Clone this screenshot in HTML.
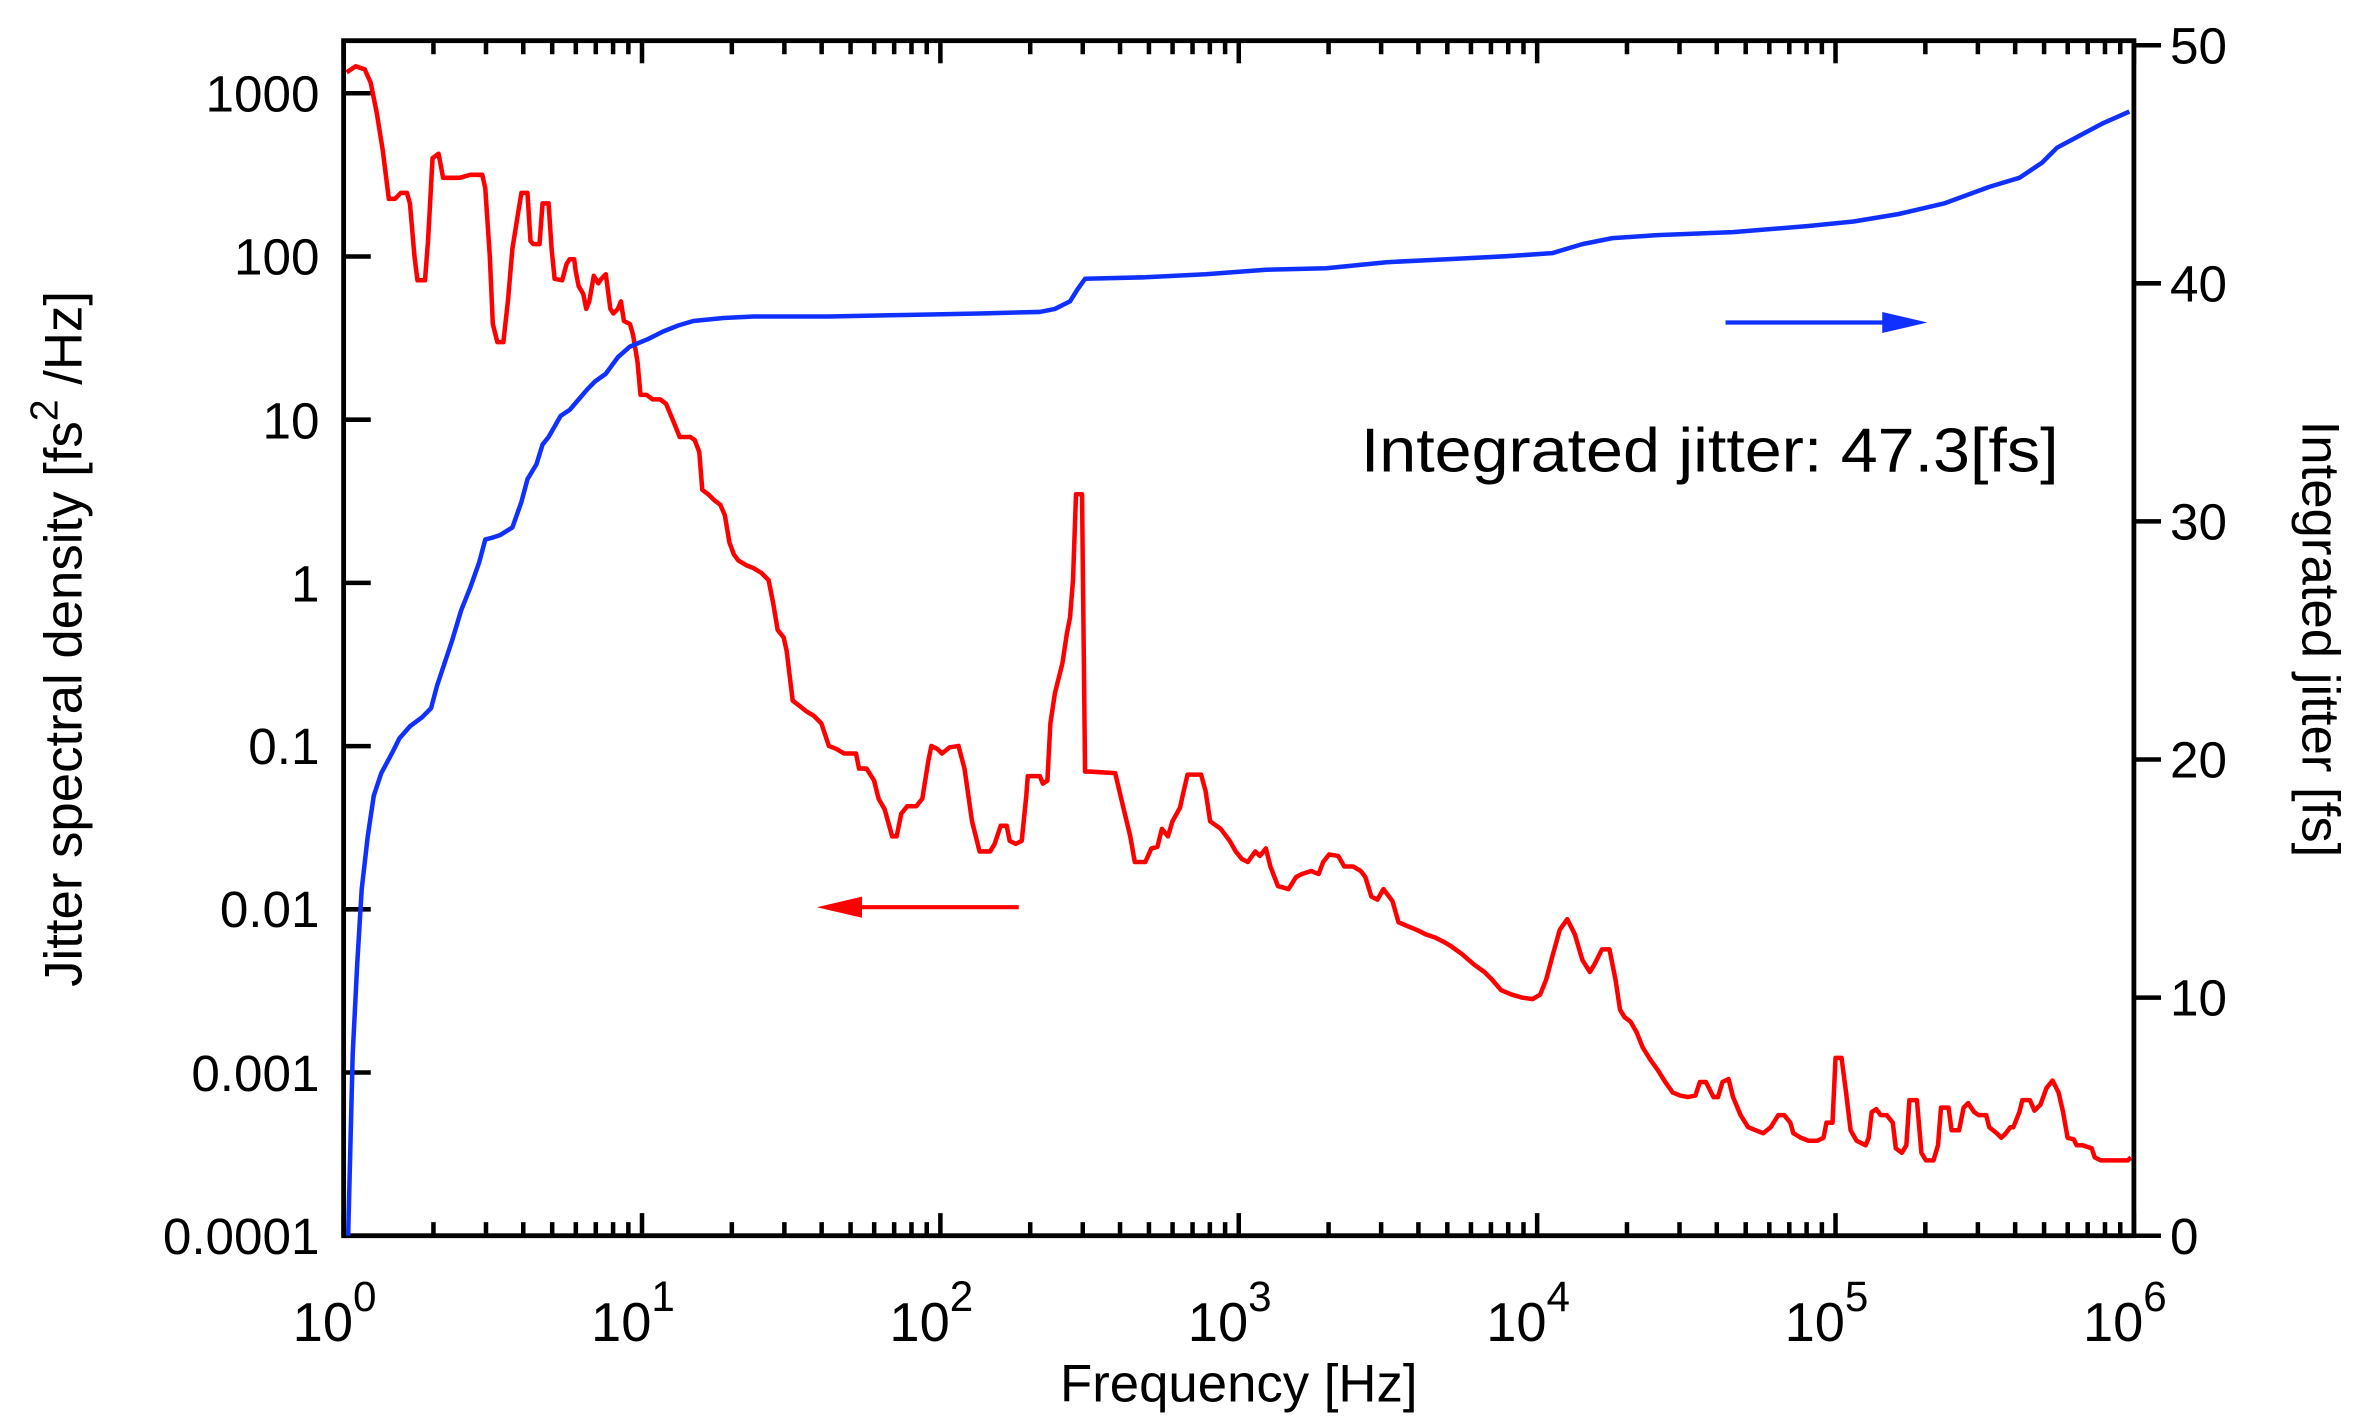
<!DOCTYPE html>
<html><head><meta charset="utf-8"><style>
html,body{margin:0;padding:0;background:#fff;}
svg{display:block;}
text{font-family:"Liberation Sans",Arial,sans-serif;fill:#000;}
</style></head><body>
<svg id="s" xmlns="http://www.w3.org/2000/svg" width="2363" height="1428" viewBox="0 0 1568 947.6">
<g id="ticks" stroke="#000" stroke-width="3"></g>
<rect x="228" y="27" width="1188" height="793" fill="none" stroke="#000" stroke-width="3.2"/>
<g font-size="34" text-anchor="end">
<text x="212" y="74">1000</text><text x="212" y="182">100</text><text x="212" y="291">10</text>
<text x="212" y="399">1</text><text x="212" y="507">0.1</text><text x="212" y="615">0.01</text>
<text x="212" y="724">0.001</text><text x="212" y="832">0.0001</text>
</g>
<g font-size="34" text-anchor="start">
<text x="1440" y="832">0</text><text x="1440" y="674">10</text><text x="1440" y="516">20</text>
<text x="1440" y="358">30</text><text x="1440" y="200">40</text><text x="1440" y="42">50</text>
</g>
<g font-size="36" id="xl"></g>
<text x="822" y="930" font-size="35" text-anchor="middle">Frequency [Hz]</text>
<text transform="translate(54,424) rotate(-90)" font-size="35" text-anchor="middle">Jitter spectral density [fs<tspan font-size="26" dy="-16">2</tspan><tspan dy="16"> /Hz]</tspan></text>
<text transform="translate(1528,424) rotate(90)" font-size="35" text-anchor="middle">Integrated jitter [fs]</text>
<text x="903" y="313" font-size="41" textLength="463" lengthAdjust="spacingAndGlyphs">Integrated jitter: 47.3[fs]</text>
<line x1="676" y1="602" x2="560" y2="602" stroke="#f00" stroke-width="2.8"/>
<polygon points="542,602 572,595 572,609" fill="#f00"/>
<line x1="1145" y1="214" x2="1260" y2="214" stroke="#1030ff" stroke-width="2.8"/>
<polygon points="1279,214 1249,207 1249,221" fill="#1030ff"/>
<polyline fill="none" stroke="#f00" stroke-width="3" stroke-linejoin="round" points="230,48 236,44 242,46 246,55 250,75 254,100 258,132 262,132 266,128 270,128 272,135 275,170 277,186 282,186 284,160 287,105 291,102 294,118 305,118 312,116 320,116 322,125 325,170 327,215 330,227 334,227 337,200 340,165 344,140 346,128 350,128 352,160 354,162 358,162 360,135 364,135 366,165 368,185 373,186 376,175 378,172 381,172 382,180 384,190 387,195 389,205 391,200 394,183 397,188 399,185 402,182 405,205 407,208 410,205 412,200 414,213 418,215 420,222 423,240 425,262 429,262 433,265 438,265 442,268 447,280 451,290 458,290 461,292 464,300 466,325 470,328 474,332 478,335 481,342 484,360 487,368 490,372 495,375 500,377 505,380 510,385 513,400 516,418 520,423 522,432 526,465 530,468 535,472 540,475 545,480 550,495 555,497 560,500 568,500 570,510 575,510 580,518 583,530 587,537 592,555 595,555 598,540 602,535 608,535 612,530 616,505 618,495 622,497 625,500 630,496 636,495 640,510 645,545 650,565 657,565 660,560 664,548 668,548 670,558 674,560 678,558 681,528 682,515 690,515 692,520 695,518 697,480 700,460 705,440 708,420 710,410 712,385 714,328 718,328 720,512 723,512 740,513 744,530 750,555 753,572 760,572 764,563 768,562 771,550 775,555 778,545 783,536 785,527 788,514 797,514 800,525 803,545 810,550 816,558 820,565 824,570 828,572 833,565 836,568 840,563 843,575 848,588 855,590 860,582 864,580 870,578 875,580 878,572 882,567 888,568 892,575 898,575 903,578 906,582 910,595 914,597 918,590 924,598 928,612 935,615 940,617 946,620 952,622 958,625 963,628 970,633 978,640 985,645 990,650 996,657 1003,660 1010,662 1017,663 1022,660 1026,650 1030,635 1035,617 1040,610 1045,620 1050,637 1055,645 1058,640 1063,630 1068,630 1072,650 1075,670 1078,675 1082,678 1086,685 1090,695 1095,703 1100,710 1105,718 1110,725 1115,727 1120,728 1125,727 1128,718 1132,718 1137,728 1140,728 1143,718 1147,716 1150,728 1155,740 1160,748 1165,750 1170,752 1175,748 1180,740 1184,740 1188,745 1190,752 1195,755 1200,757 1206,757 1210,755 1212,745 1216,745 1218,702 1222,702 1225,725 1228,750 1232,757 1238,760 1240,755 1242,738 1245,736 1248,740 1252,740 1256,745 1258,762 1262,765 1265,760 1267,730 1272,730 1275,765 1278,770 1283,770 1286,760 1288,735 1293,735 1295,750 1300,750 1303,735 1306,732 1310,738 1313,740 1318,740 1320,748 1325,752 1328,755 1331,752 1334,748 1336,748 1340,738 1342,730 1347,730 1350,737 1354,733 1358,722 1362,717 1366,725 1369,738 1372,755 1376,756 1378,760 1382,760 1388,762 1390,768 1394,770 1412,770 1414,768"/>
<polyline fill="none" stroke="#1030ff" stroke-width="3" stroke-linejoin="round" points="231,820 232,780 234,700 237,640 240,590 244,555 248,528 253,513 260,500 265,490 272,482 280,476 286,470 290,455 295,440 300,425 306,405 312,390 318,373 322,358 326,357 332,355 340,350 346,333 350,318 356,308 360,295 364,290 368,283 372,276 378,272 384,265 390,258 395,253 402,248 410,237 418,230 430,225 440,220 450,216 460,213 480,211 500,210 550,210 600,209 650,208 690,207 700,205 710,200 715,192 720,185 760,184 800,182 840,179 880,178 920,174 960,172 1000,170 1030,168 1050,162 1070,158 1100,156 1150,154 1200,150 1230,147 1260,142 1290,135 1320,124 1340,118 1355,108 1365,98 1380,90 1395,82 1413,74"/>
</svg>
<script>
var NS="http://www.w3.org/2000/svg",g=document.getElementById('ticks'),xl=document.getElementById('xl');
function L(a,b,c,d){var l=document.createElementNS(NS,'line');l.setAttribute('x1',a);l.setAttribute('y1',b);l.setAttribute('x2',c);l.setAttribute('y2',d);g.appendChild(l);}
var x0=228,dx=198;
for(var k=0;k<=6;k++){var x=x0+k*dx;L(x,820,x,805);L(x,27,x,42);
 var t=document.createElementNS(NS,'text');t.setAttribute('x',x-6);t.setAttribute('y',890);t.setAttribute('text-anchor','middle');
 t.innerHTML='10<tspan font-size="28" dy="-20">'+k+'</tspan>';xl.appendChild(t);
 if(k<6)for(var m=2;m<10;m++){var xm=x+Math.log10(m)*dx;L(xm,820,xm,811);L(xm,27,xm,36);}}
for(var j=0;j<=7;j++){var y=820-j*108.3;L(228,y,246,y);}
for(var j=0;j<=5;j++){var y=820-j*158;L(1416,y,1434,y);}
</script>
</body></html>
